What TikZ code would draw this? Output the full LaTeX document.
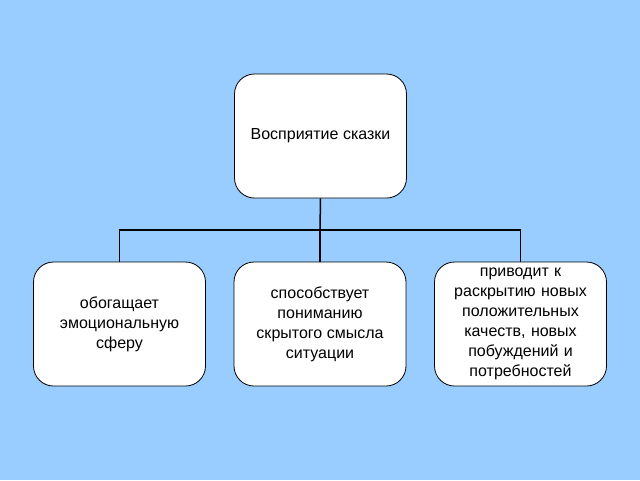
\documentclass[tikz,border=0pt]{standalone}
\usepackage{fontspec}
\setmainfont{Liberation Sans}
\begin{document}
\begin{tikzpicture}[x=1pt,y=-1pt,
  box/.style={draw=black,line width=0.8pt,fill=white,rounded corners=20pt,minimum width=172pt,minimum height=124pt,align=center,font=\fontsize{16}{20}\selectfont,inner sep=1pt},
  conn/.style={draw=black,line width=1.5pt}]
\fill[fill={rgb,255:red,153;green,204;blue,255}] (0,0) rectangle (640,480);
\useasboundingbox (0,0) rectangle (640,480);
\node[box] (top) at (320.5,136) {Восприятие сказки};
\node[box] (b1) at (119.5,324) {обогащает\\эмоциональную\\сферу};
\node[box] (b2) at (320,324) {способствует\\пониманию\\скрытого смысла\\ситуации};
\node[box,text width=170pt] (b3) at (520.5,324) {приводит к\\раскрытию новых\\положительных\\качеств, новых\\побуждений и\\потребностей};
\coordinate (j) at (320,230);
\draw[conn] (top.south) -- (j);
\draw[conn] (b1.north) |- (j) -| (b3.north);
\draw[conn] (j) -- (b2.north);
\end{tikzpicture}
\end{document}
